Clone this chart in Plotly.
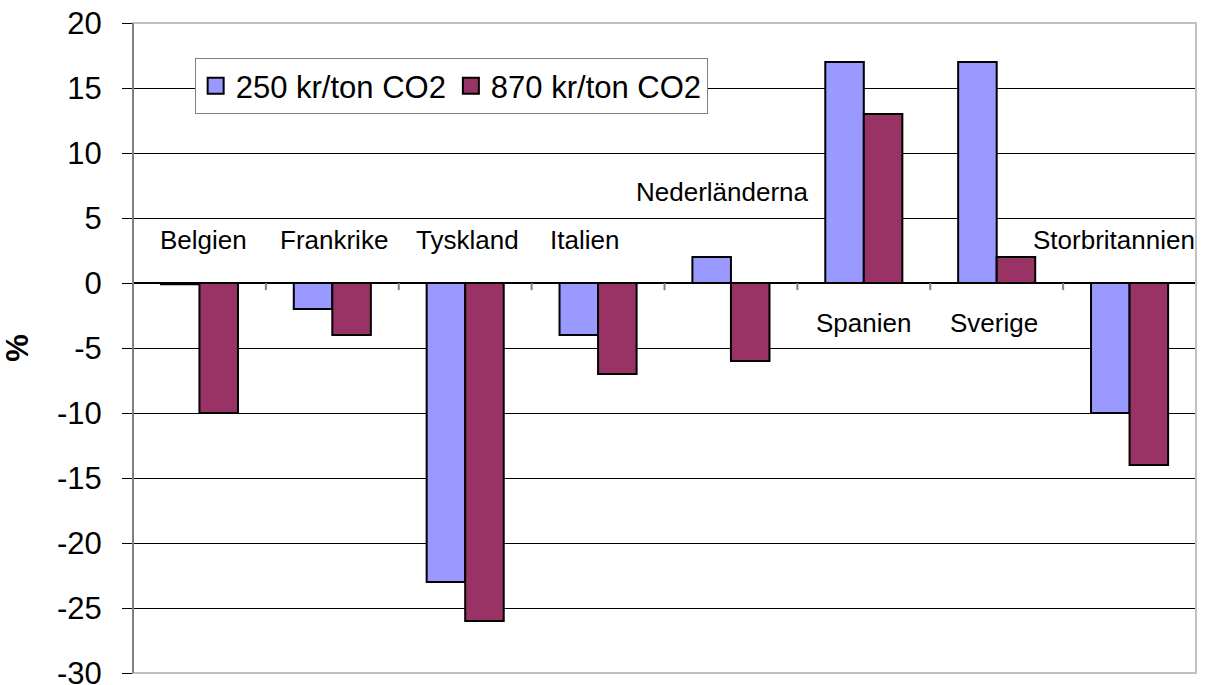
import plotly.graph_objects as go

categories = ["Belgien", "Frankrike", "Tyskland", "Italien", "Nederländerna",
              "Spanien", "Sverige", "Storbritannien"]
series_names = ["250 kr/ton CO2", "870 kr/ton CO2"]
values_250 = [-0.1, -2, -23, -4, 2, 17, 17, -10]
values_870 = [-10, -4, -26, -7, -6, 13, 2, -14]

# category label positions (data y) and small horizontal offsets (px)
label_y = [3.3, 3.3, 3.3, 3.3, 7.0, -3.1, -3.1, 3.3]
label_shift = [4, 2, 2, -14, -8, 0, -3, -16]

y_ticks = [20, 15, 10, 5, 0, -5, -10, -15, -20, -25, -30]

FONT = "Liberation Sans, Arial, sans-serif"
BLUE = "#9999FF"
RED = "#993366"
colors = [BLUE, RED]

fig = go.Figure()
for name, vals, col in zip(series_names, [values_250, values_870], colors):
    fig.add_trace(go.Bar(x=categories, y=vals, name=name, legendgroup=name,
                         showlegend=False,
                         marker=dict(color=col, line=dict(color="black", width=2))))
# legend entries with larger square swatches
for name, col in zip(series_names, colors):
    fig.add_trace(go.Scatter(x=[None], y=[None], mode="markers", name=name,
                             legendgroup=name, showlegend=True,
                             marker=dict(symbol="square", size=16, color=col,
                                         line=dict(color="black", width=2))))

for i, c in enumerate(categories):
    fig.add_annotation(x=c, y=label_y[i], text=c, showarrow=False,
                       xshift=label_shift[i], font=dict(size=26, color="black", family=FONT))

# category boundary tick marks at the zero line
for k in range(1, len(categories)):
    fig.add_shape(type="line", xref="x", yref="y", x0=k - 0.5, x1=k - 0.5,
                  y0=0, y1=-0.55, line=dict(color="#808080", width=2), layer="above")

# plot-area border
fig.add_shape(type="rect", xref="paper", yref="paper", x0=0, x1=1, y0=0, y1=1,
              line=dict(color="#c0c0c0", width=2), layer="above")
# left axis line redrawn on top of border
fig.add_shape(type="line", xref="paper", yref="paper", x0=0, x1=0, y0=0, y1=1,
              line=dict(color="#808080", width=2), layer="above")

fig.update_layout(
    width=1205, height=685,
    margin=dict(l=133, r=9, t=23, b=12),
    paper_bgcolor="white", plot_bgcolor="white",
    barmode="group", bargap=0.42, bargroupgap=0,
    font=dict(family=FONT, color="black"),
    showlegend=True,
    legend=dict(orientation="h", x=0.058, y=0.946, xanchor="left", yanchor="top",
                bgcolor="white", bordercolor="#808080", borderwidth=1,
                font=dict(size=31, family=FONT, color="black"),
                traceorder="normal", itemwidth=30, itemsizing="trace",
                tracegroupgap=0),
    xaxis=dict(showticklabels=False, showgrid=False, zeroline=False, ticks="",
               showline=False, automargin=False,
               range=[-0.5, len(categories) - 0.5]),
    yaxis=dict(range=[-30, 20], tickvals=y_ticks, ticktext=[str(v) for v in y_ticks],
               automargin=False, ticklabeloverflow="allow",
               showgrid=True, gridcolor="black", gridwidth=1,
               zeroline=True, zerolinecolor="black", zerolinewidth=1.5,
               showline=False,
               ticks="outside", ticklen=10, tickcolor="black", tickwidth=1,
               ticklabelstandoff=14,
               tickfont=dict(size=31, family=FONT, color="black"),
               title=dict(text="<b>%</b>", font=dict(size=31, family=FONT, color="black"),
                          standoff=34)),
)

fig.write_html("out.html", config={"displayModeBar": False},
               post_script="document.body.style.margin='0';")
